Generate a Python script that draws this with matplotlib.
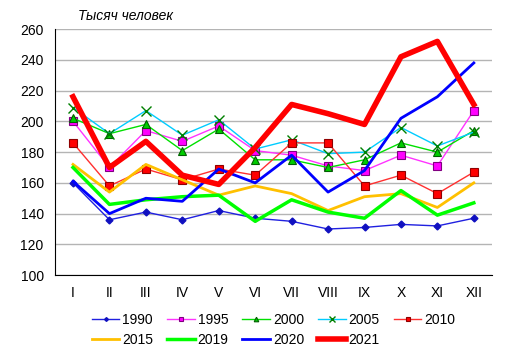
import matplotlib
matplotlib.use("Agg")
import matplotlib.pyplot as plt
import numpy as np

plt.rcParams['font.family'] = ['Liberation Sans', 'DejaVu Sans']

months = ['I', 'II', 'III', 'IV', 'V', 'VI', 'VII', 'VIII', 'IX', 'X', 'XI', 'XII']

y1990 = [160, 136, 141, 136, 142, 137, 135, 130, 131, 133, 132, 137]
y1995 = [200, 170, 194, 187, 197, 181, 178, 171, 168, 178, 171, 207]
y2000 = [202, 192, 198, 181, 195, 175, 175, 170, 175, 186, 180, 194]
y2005 = [209, 192, 207, 191, 201, 182, 188, 179, 180, 196, 184, 193]
y2010 = [186, 158, 169, 162, 169, 165, 186, 186, 158, 165, 153, 167]
y2015 = [172, 154, 172, 162, 152, 158, 153, 142, 151, 153, 144, 160]
y2019 = [170, 146, 149, 151, 152, 135, 149, 141, 137, 155, 139, 147]
y2020 = [161, 140, 150, 148, 169, 160, 178, 154, 168, 202, 216, 238]
y2021 = [216, 170, 187, 165, 159, 183, 211, 205, 198, 242, 252, 211]

x = np.arange(len(months))

fig, ax = plt.subplots(figsize=(5.12, 3.55), dpi=100)
fig.subplots_adjust(left=0.107, right=0.961, top=0.918, bottom=0.225)

l1990, = ax.plot(x, y1990, color='#2020e0', lw=1, marker='D', ms=3.5,
                 mfc='#1010c0', mec='#1010c0', label='1990')
l1995, = ax.plot(x, y1995, color='#ff33ff', lw=1, marker='s', ms=6,
                 mfc='#ff00ff', mec='#800080', mew=0.8, label='1995')
l2000, = ax.plot(x, y2000, color='#00e000', lw=1, marker='^', ms=6,
                 mfc='#00cc00', mec='#006000', mew=0.8, label='2000')
l2005, = ax.plot(x, y2005, color='#00ccff', lw=1, marker='x', ms=7,
                 mec='#008000', mew=1, label='2005')
l2010, = ax.plot(x, y2010, color='#ff3030', lw=1, marker='s', ms=6,
                 mfc='#ff0000', mec='#900000', mew=0.8, label='2010')
l2015, = ax.plot(x, y2015, color='#ffc000', lw=2, label='2015')
l2019, = ax.plot(x, y2019, color='#00ff00', lw=2.5, label='2019')
l2020, = ax.plot(x, y2020, color='#0000ff', lw=2, label='2020')
l2021, = ax.plot(x, y2021, color='#ff0000', lw=4, label='2021')

ax.set_xlim(-0.5, 11.5)
ax.set_ylim(100, 260)
ax.set_yticks(range(100, 261, 20))
ax.set_xticks(x)
ax.set_xticklabels(months)
ax.tick_params(length=0, labelsize=10, pad=8)
ax.grid(axis='y', color='#b4b4b4', lw=1)
ax.set_axisbelow(True)
for s in ['top', 'right']:
    ax.spines[s].set_visible(False)
ax.spines['left'].set_color('black')
ax.spines['bottom'].set_color('black')

ax.text(0.053, 1.025, 'Тысяч человек', transform=ax.transAxes,
        fontsize=10, style='italic', ha='left', va='bottom')

# legend filled column-wise, so interleave rows
order = [l1990, l2015, l1995, l2019, l2000, l2020, l2005, l2021, l2010]
ax.legend(handles=order, labels=[h.get_label() for h in order],
          loc='upper center', bbox_to_anchor=(0.50, -0.13), ncol=5,
          frameon=False, fontsize=10, handlelength=2.0, columnspacing=1.0,
          handletextpad=0.2, labelspacing=0.45, borderaxespad=0,
          markerscale=0.55)

fig.savefig('out.png', dpi=100)
